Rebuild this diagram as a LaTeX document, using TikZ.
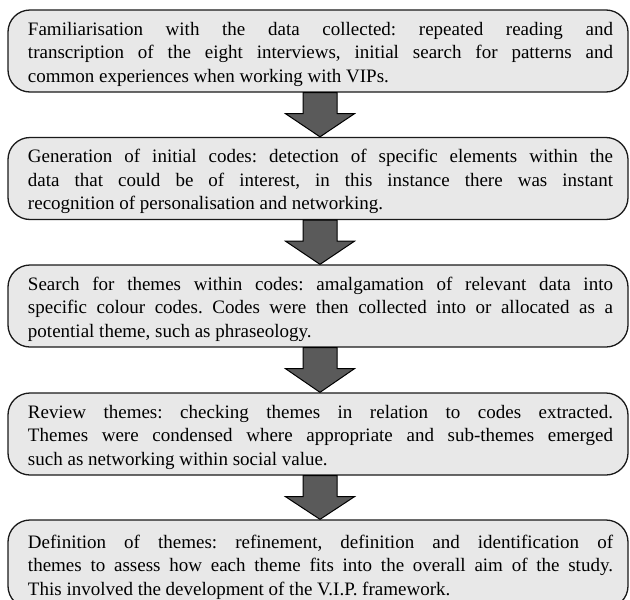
\documentclass[tikz,border=0pt]{standalone}
\usepackage{fontspec}
\setmainfont{Liberation Serif}
\usetikzlibrary{calc}
\definecolor{boxfill}{HTML}{E8E8E8}
\definecolor{arrowfill}{HTML}{5A5A5A}
\definecolor{boxline}{HTML}{1A1A1A}
\tikzset{
  stagebox/.style={draw=boxline, line width=1.3pt, fill=boxfill, rounded corners=22pt,
    text width=590pt, inner xsep=15pt, inner ysep=0pt, minimum height=82pt,
    align=justify, text=black,
    font=\fontsize{19pt}{23.5pt}\selectfont,
    execute at begin node={\frenchspacing\hyphenpenalty=10000\relax\exhyphenpenalty=10000\relax\tolerance=9999\relax\leftskip=5pt\relax\rule{0pt}{20pt}}},
  blockarrow/.style={draw=black, line width=1pt, fill=arrowfill, line join=miter},
}
\newcommand{\blockarr}[2]{%
  \path[blockarrow] let \p1=(#1.south), \p2=(#2.north) in
    (\x1+2pt-17pt,\y1) -- (\x1+2pt+17pt,\y1) -- (\x1+2pt+17pt,\y1-21pt)
    -- (\x1+2pt+34.5pt,\y1-21pt) -- (\x1+2pt,\y2) -- (\x1+2pt-34.5pt,\y1-21pt)
    -- (\x1+2pt-17pt,\y1-21pt) -- cycle;}
\begin{document}
\begin{tikzpicture}[x=1pt,y=-1pt]
\useasboundingbox (0,0) rectangle (630,600);
\clip (0,0) rectangle (630,600);
\node[stagebox] (s1) at (318,51) {Familiarisation with the data collected: repeated reading and\linebreak transcription of the eight interviews, initial search for patterns and\linebreak common experiences when working with VIPs.};
\node[stagebox] (s2) at (318,178.5) {Generation of initial codes: detection of specific elements within the\linebreak data that could be of interest, in this instance there was instant\linebreak recognition of personalisation and networking.};
\node[stagebox] (s3) at (318,306) {Search for themes within codes: amalgamation of relevant data into\linebreak specific colour codes. Codes were then collected into or allocated as a\linebreak potential theme, such as phraseology.};
\node[stagebox] (s4) at (318,434) {Review themes: checking themes in relation to codes extracted.\linebreak Themes were condensed where appropriate and sub-themes emerged\linebreak such as networking within social value.};
\node[stagebox, minimum height=88pt] (s5) at (318,564) {Definition of themes: refinement, definition and identification of\linebreak themes to assess how each theme fits into the overall aim of the study.\linebreak This involved the development of the V.I.P. framework.};
\blockarr{s1}{s2}
\blockarr{s2}{s3}
\blockarr{s3}{s4}
\blockarr{s4}{s5}
\end{tikzpicture}
\end{document}
